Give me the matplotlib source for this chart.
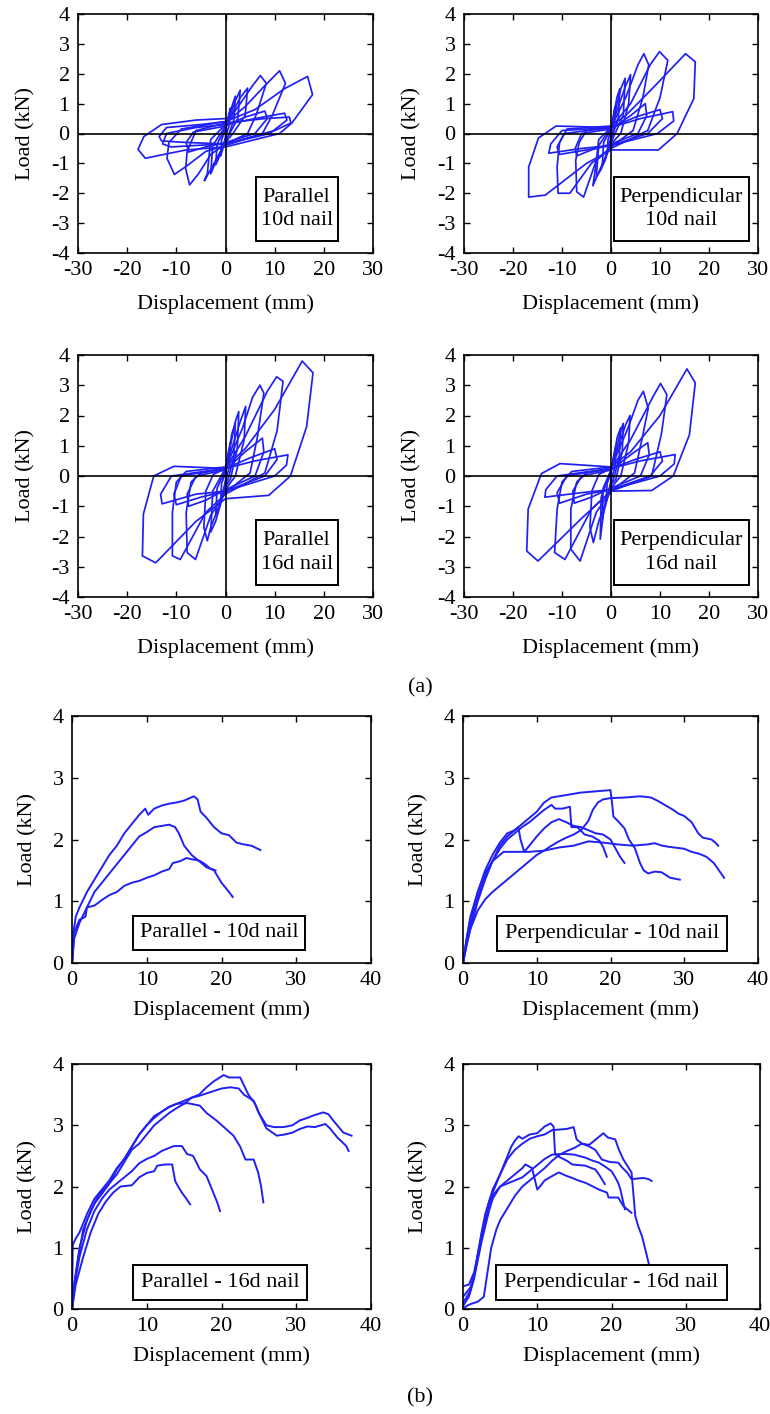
import matplotlib
matplotlib.use('Agg')
import matplotlib.pyplot as plt
from matplotlib.patches import Rectangle

plt.rcParams['font.family'] = ['Liberation Serif', 'DejaVu Serif']
plt.rcParams['axes.unicode_minus'] = False

BLUE = '#2020F5'

# ---- (a) cyclic tests: one closed path per cycle, (disp mm, load kN) ----
par10_loops = [
    [(0, 0.1), (0.6, 0.6), (1.0, 0.85), (0.8, 0.3), (0, -0.1), (-0.6, -0.55), (-1.0, -0.75), (-0.8, -0.2), (0, 0.1)],
    [(0, 0.15), (1.3, 0.9), (2.0, 1.25), (1.7, 0.45), (0.5, -0.1), (0, -0.2), (-1.3, -0.8), (-2.0, -1.05), (-1.7, -0.35), (0, 0.2)],
    [(0, 0.2), (2.0, 1.1), (3.0, 1.45), (2.5, 0.5), (0, -0.25), (-2.0, -0.95), (-3.0, -1.35), (-2.6, -0.4), (0, 0.25)],
    [(0, 0.25), (3.0, 1.2), (4.5, 1.52), (4.0, 0.6), (1.5, 0.0), (0, -0.3), (-3.0, -1.2), (-4.3, -1.58), (-3.7, -1.35), (-3.0, -0.2), (0, 0.3)],
    [(0, 0.3), (3.0, 1.0), (5.5, 1.6), (7.1, 1.94), (8.3, 1.68), (6.3, 0.65), (4.5, 0.0), (0, -0.35), (-3.0, -0.7), (-5.5, -1.35), (-7.3, -1.72), (-8.1, -1.18), (-7.8, -0.6), (-6.0, 0.1), (0, 0.35)],
    [(0, 0.25), (4.0, 0.55), (8.0, 0.75), (8.5, 0.5), (6.0, 0.0), (0, -0.3), (-4.0, -0.45), (-7.5, -0.62), (-8.0, -0.3), (-6.5, 0.05), (0, 0.25)],
    [(0, 0.35), (4.0, 0.9), (8.0, 1.6), (11.0, 2.1), (12.2, 1.68), (9.5, 0.6), (7.5, 0.0), (0, -0.4), (-4.0, -0.6), (-8.0, -1.1), (-10.4, -1.37), (-11.9, -0.83), (-11.5, -0.3), (-9.0, 0.15), (0, 0.4)],
    [(0, 0.3), (6.0, 0.5), (12.0, 0.68), (12.5, 0.45), (9.0, 0.0), (0, -0.35), (-6.0, -0.4), (-11.0, -0.45), (-12.8, -0.35), (-12.0, 0.0), (-6.0, 0.2), (0, 0.3)],
    [(0, 0.4), (6.0, 0.8), (12.0, 1.5), (16.7, 1.91), (17.7, 1.3), (13.5, 0.35), (11.0, 0.0), (0, -0.45), (-8.0, -0.55), (-14.0, -0.75), (-16.3, -0.83), (-17.8, -0.53), (-16.6, -0.1), (-13.0, 0.3), (-6.0, 0.45), (0, 0.5)],
    [(0, 0.35), (8.0, 0.5), (13.0, 0.55), (13.3, 0.35), (10.0, 0.1), (0, -0.35), (-8.0, -0.3), (-13.0, -0.25), (-13.5, -0.1), (-12.0, 0.2), (-5.0, 0.3), (0, 0.4)],
]

per10_loops = [
    [(0, 0.1), (0.5, 0.6), (0.8, 0.9), (0.6, 0.2), (0, -0.1), (-0.5, -0.5), (-0.8, -0.7), (-0.6, -0.2), (0, 0.1)],
    [(0, 0.1), (1.2, 1.2), (1.8, 1.5), (1.5, 0.5), (0, -0.2), (-1.2, -0.9), (-1.8, -1.1), (-1.5, -0.3), (0, 0.15)],
    [(0, 0.15), (2.0, 1.5), (2.9, 1.85), (2.5, 0.6), (0, -0.3), (-2.0, -1.2), (-3.0, -1.45), (-2.5, -0.4), (0, 0.2)],
    [(0, 0.2), (3.0, 1.6), (4.0, 1.97), (3.6, 1.0), (2.0, 0.0), (0, -0.35), (-2.5, -1.3), (-3.7, -1.75), (-3.2, -1.2), (-2.5, -0.2), (0, 0.2)],
    [(0, 0.2), (3.0, 1.2), (5.5, 2.3), (6.7, 2.67), (7.7, 2.3), (6.5, 1.2), (4.5, 0.1), (0, -0.45), (-3.0, -0.9), (-5.6, -2.13), (-7.0, -1.95), (-7.2, -0.9), (-6.5, -0.3), (-5.0, 0.1), (0, 0.2)],
    [(0, 0.15), (4.0, 0.6), (7.0, 1.0), (7.3, 0.6), (5.5, 0.0), (0, -0.35), (-4.0, -0.55), (-7.0, -0.75), (-7.3, -0.5), (-6.0, 0.0), (0, 0.15)],
    [(0, 0.2), (4.0, 1.0), (8.0, 2.3), (9.9, 2.74), (11.6, 2.45), (10.0, 1.2), (7.5, 0.1), (0, -0.5), (-4.0, -1.0), (-8.4, -2.0), (-10.8, -2.0), (-11.0, -1.12), (-10.5, -0.3), (-9.0, 0.15), (0, 0.25)],
    [(0, 0.2), (5.0, 0.55), (10.0, 0.8), (10.5, 0.5), (7.5, 0.0), (0, -0.4), (-5.0, -0.55), (-10.5, -0.7), (-11.0, -0.45), (-9.5, 0.0), (0, 0.2)],
    [(0, 0.25), (3.0, 0.6), (9.0, 1.6), (15.2, 2.67), (17.2, 2.4), (16.9, 1.17), (13.5, 0.0), (9.7, -0.55), (0, -0.55), (-5.0, -1.0), (-13.4, -2.06), (-16.8, -2.13), (-16.8, -1.12), (-14.8, -0.15), (-11.2, 0.25), (0, 0.2)],
    [(0, 0.2), (6.0, 0.5), (12.6, 0.73), (12.8, 0.42), (9.5, 0.0), (0, -0.4), (-6.0, -0.5), (-12.7, -0.66), (-12.3, -0.35), (-10.0, 0.1), (0, 0.2)],
]

par16_loops = [
    [(0, 0.1), (0.6, 0.8), (1.0, 1.1), (0.8, 0.3), (0, -0.15), (-0.6, -0.6), (-1.0, -0.85), (-0.8, -0.25), (0, 0.1)],
    [(0, 0.15), (1.3, 1.4), (2.0, 1.75), (1.7, 0.6), (0.5, -0.1), (0, -0.25), (-1.3, -1.0), (-2.0, -1.3), (-1.7, -0.4), (0, 0.2)],
    [(0, 0.2), (2.0, 1.8), (2.7, 2.13), (2.4, 0.9), (1.0, -0.1), (0, -0.35), (-2.0, -1.5), (-3.0, -1.85), (-2.6, -0.5), (0, 0.25)],
    [(0, 0.25), (3.0, 1.8), (4.1, 2.3), (3.8, 1.2), (2.0, 0.0), (0, -0.45), (-3.0, -1.7), (-3.7, -2.14), (-4.4, -1.7), (-4.0, -0.5), (-2.5, 0.05), (0, 0.25)],
    [(0, 0.25), (3.5, 1.6), (5.5, 2.6), (7.0, 3.0), (7.8, 2.74), (6.5, 1.3), (5.0, 0.1), (0, -0.55), (-3.0, -1.3), (-6.1, -2.76), (-7.8, -2.53), (-8.0, -1.2), (-7.0, -0.2), (-5.0, 0.1), (0, 0.25)],
    [(0, 0.2), (4.0, 0.8), (7.5, 1.25), (7.8, 0.8), (6.0, 0.0), (0, -0.45), (-4.0, -0.8), (-7.5, -1.0), (-7.8, -0.6), (-6.0, 0.0), (0, 0.2)],
    [(0, 0.25), (4.0, 1.3), (8.5, 2.8), (10.4, 3.28), (11.7, 3.13), (10.5, 1.5), (8.0, 0.1), (0, -0.6), (-4.0, -1.2), (-9.2, -2.76), (-10.8, -2.64), (-10.8, -1.2), (-10.0, -0.2), (-8.0, 0.15), (0, 0.3)],
    [(0, 0.25), (5.0, 0.6), (10.0, 0.9), (10.5, 0.55), (8.0, 0.0), (0, -0.5), (-5.0, -0.7), (-10.0, -0.95), (-10.5, -0.6), (-9.0, 0.0), (0, 0.25)],
    [(0, 0.3), (4.0, 0.9), (10.0, 2.2), (15.6, 3.8), (17.8, 3.41), (16.5, 1.63), (13.2, 0.0), (8.8, -0.64), (0, -0.75), (-6.0, -1.5), (-14.2, -2.87), (-16.9, -2.64), (-16.7, -1.26), (-14.6, 0.0), (-10.5, 0.32), (0, 0.25)],
    [(0, 0.25), (6.0, 0.5), (12.7, 0.7), (12.4, 0.36), (10.0, 0.0), (0, -0.5), (-6.0, -0.6), (-12.9, -0.92), (-13.2, -0.6), (-11.0, 0.0), (0, 0.25)],
]

per16_loops = [
    [(0, 0.1), (0.6, 0.7), (1.0, 1.0), (0.8, 0.3), (0, -0.15), (-0.6, -0.6), (-1.0, -0.8), (-0.8, -0.25), (0, 0.1)],
    [(0, 0.15), (1.3, 1.3), (2.0, 1.6), (1.7, 0.6), (0.5, -0.1), (0, -0.25), (-1.3, -1.0), (-1.8, -1.45), (-1.6, -0.4), (0, 0.2)],
    [(0, 0.2), (2.0, 1.5), (2.5, 1.74), (2.3, 0.8), (1.0, -0.1), (0, -0.3), (-1.5, -1.2), (-2.2, -2.09), (-2.0, -0.7), (0, 0.2)],
    [(0, 0.25), (3.0, 1.7), (3.9, 2.0), (3.6, 1.1), (2.0, 0.0), (0, -0.4), (-2.5, -1.5), (-3.6, -2.2), (-4.3, -1.7), (-3.9, -0.5), (-2.5, 0.05), (0, 0.25)],
    [(0, 0.25), (3.5, 1.6), (5.5, 2.5), (6.6, 2.8), (7.6, 2.24), (6.3, 1.2), (4.8, 0.1), (0, -0.5), (-3.0, -1.2), (-6.3, -2.81), (-8.2, -2.42), (-8.2, -1.1), (-7.0, -0.2), (-5.0, 0.1), (0, 0.25)],
    [(0, 0.2), (4.0, 0.7), (7.5, 1.1), (7.8, 0.7), (6.0, 0.0), (0, -0.4), (-4.0, -0.7), (-7.5, -0.9), (-7.8, -0.5), (-6.0, 0.0), (0, 0.2)],
    [(0, 0.25), (4.0, 1.2), (8.5, 2.6), (10.1, 3.06), (11.4, 2.69), (10.3, 1.4), (8.3, 0.0), (0, -0.5), (-4.0, -1.1), (-9.4, -2.76), (-11.5, -2.53), (-11.0, -1.1), (-10.0, -0.2), (-8.0, 0.15), (0, 0.3)],
    [(0, 0.25), (5.0, 0.55), (10.0, 0.8), (10.5, 0.5), (8.0, 0.0), (0, -0.45), (-5.0, -0.6), (-10.5, -0.9), (-11.0, -0.55), (-9.0, 0.0), (0, 0.25)],
    [(0, 0.3), (4.0, 0.8), (10.0, 2.0), (15.5, 3.54), (17.2, 3.08), (16.0, 1.36), (12.7, 0.0), (8.3, -0.48), (0, -0.5), (-6.0, -1.4), (-14.9, -2.81), (-17.2, -2.48), (-16.9, -1.09), (-14.2, 0.08), (-10.4, 0.41), (0, 0.3)],
    [(0, 0.25), (6.0, 0.5), (13.1, 0.71), (12.9, 0.4), (10.0, 0.0), (0, -0.45), (-6.0, -0.55), (-13.5, -0.7), (-13.3, -0.45), (-11.0, 0.0), (0, 0.25)],
]

# ---- (b) monotonic tests ----
par10_mono = [
    [(0, 0), (0.2, 0.5), (0.5, 0.75), (1, 0.9), (2, 1.15), (3, 1.35), (4, 1.55), (5, 1.75), (6, 1.9), (7, 2.1), (8, 2.25), (9, 2.4), (9.8, 2.5), (10.2, 2.4), (11, 2.5), (12, 2.55), (13, 2.58), (14, 2.6), (15, 2.63), (16.3, 2.7), (16.8, 2.65), (17.2, 2.45), (18, 2.35), (19, 2.2), (20, 2.1), (21, 2.07), (22, 1.95), (23, 1.92), (24, 1.9), (24.5, 1.87), (25.2, 1.83)],
    [(0, 0), (0.3, 0.4), (1, 0.65), (2, 0.9), (3, 1.15), (4, 1.3), (5, 1.45), (6, 1.6), (7, 1.75), (8, 1.9), (9, 2.05), (10, 2.12), (11, 2.2), (12, 2.22), (13, 2.24), (13.8, 2.2), (14.3, 2.1), (15, 1.9), (16, 1.75), (17, 1.65), (18, 1.55), (19, 1.5), (19.5, 1.4), (20, 1.3), (21, 1.15), (21.5, 1.07)],
    [(0, 0), (0.3, 0.5), (1, 0.7), (1.8, 0.75), (2, 0.9), (3, 0.93), (4, 1.02), (5, 1.1), (6, 1.15), (7, 1.25), (8, 1.3), (9, 1.33), (10, 1.38), (11, 1.42), (12, 1.48), (13, 1.52), (13.5, 1.62), (14.5, 1.65), (15.3, 1.7), (16, 1.68), (17, 1.66), (17.8, 1.6), (18.5, 1.53), (19.2, 1.5)],
]

per10_mono = [
    [(0, 0), (0.5, 0.3), (1, 0.55), (2, 1.0), (3, 1.35), (4, 1.65), (5, 1.9), (6, 2.05), (7, 2.15), (8, 2.25), (9, 2.35), (10, 2.45), (11, 2.6), (12, 2.68), (14, 2.72), (16, 2.76), (18, 2.78), (20, 2.8), (20.2, 2.6), (20.4, 2.37), (21, 2.3), (21.9, 2.18), (22.5, 2.0), (23.3, 1.86), (24, 1.62), (24.5, 1.5), (25.1, 1.45), (26, 1.48), (26.9, 1.47), (28.1, 1.38), (29.4, 1.35)],
    [(0, 0), (0.5, 0.35), (1, 0.6), (2, 1.05), (3, 1.4), (4, 1.65), (5, 1.85), (6, 2.0), (7, 2.1), (8, 2.2), (9, 2.28), (10, 2.38), (11, 2.48), (12, 2.56), (12.5, 2.5), (13.5, 2.5), (14.5, 2.53), (14.7, 2.2), (15.5, 2.2), (16.5, 2.08), (17.5, 2.05), (18.5, 1.98), (19, 1.88), (19.5, 1.72)],
    [(0, 0), (0.5, 0.4), (1, 0.7), (2, 1.15), (3, 1.5), (4, 1.75), (5, 1.95), (6, 2.1), (7, 2.15), (7.5, 2.2), (7.8, 2.0), (8.3, 1.8), (9, 1.9), (10, 2.05), (11, 2.18), (12, 2.28), (13, 2.33), (14, 2.28), (15, 2.22), (16, 2.2), (17, 2.15), (18, 2.1), (19, 2.08), (20, 2.0), (20.7, 1.85), (21.3, 1.72), (21.9, 1.62)],
    [(0, 0), (0.5, 0.4), (1, 0.75), (2, 1.15), (3, 1.45), (4, 1.65), (5, 1.75), (5.5, 1.8), (7, 1.8), (9, 1.8), (11, 1.82), (13, 1.87), (15, 1.9), (17, 1.97), (19, 1.95), (21, 1.92), (23, 1.9), (25, 1.92), (26, 1.94), (27, 1.9), (28, 1.88), (30, 1.85), (31, 1.8), (32, 1.77), (33, 1.72), (34, 1.62), (35, 1.45), (35.4, 1.38)],
    [(0, 0), (0.5, 0.3), (1, 0.55), (2, 0.85), (3, 1.03), (4, 1.15), (5, 1.25), (6, 1.35), (7, 1.45), (8, 1.55), (9, 1.65), (10, 1.75), (11, 1.82), (12, 1.9), (13, 1.97), (14, 2.03), (15, 2.08), (16, 2.15), (17, 2.3), (17.6, 2.48), (18.3, 2.6), (19, 2.65), (20, 2.67), (22, 2.68), (24, 2.7), (25.5, 2.68), (26.5, 2.62), (27.5, 2.55), (28.5, 2.48), (29.2, 2.42), (30, 2.38), (31, 2.28), (31.9, 2.1), (32.5, 2.03), (33.7, 2.0), (34.2, 1.95), (34.6, 1.9)],
]

par16_mono = [
    [(0, 0), (0.1, 1.05), (0.5, 1.15), (1, 1.25), (2, 1.55), (3, 1.8), (4, 1.95), (5, 2.1), (6, 2.3), (7, 2.45), (8, 2.65), (9, 2.85), (10, 3.0), (11, 3.15), (12, 3.22), (13, 3.3), (14, 3.35), (15, 3.4), (16, 3.45), (17, 3.5), (18, 3.62), (19, 3.72), (20.3, 3.82), (21, 3.78), (22.5, 3.78), (23.6, 3.5), (24.5, 3.35), (25, 3.2), (26, 3.0), (27, 2.97), (28.3, 2.97), (29.5, 3.0), (30.5, 3.08), (31.5, 3.12), (32.3, 3.16), (33.6, 3.21), (34.3, 3.18), (35, 3.07), (36.3, 2.88), (37.4, 2.83)],
    [(0, 0), (0.3, 0.4), (0.8, 0.8), (1.5, 1.3), (2.5, 1.6), (3.5, 1.85), (5, 2.05), (6, 2.2), (7, 2.4), (8, 2.6), (9, 2.7), (10, 2.85), (11, 3.0), (12, 3.1), (13, 3.2), (14, 3.28), (15, 3.35), (16, 3.45), (17, 3.48), (18, 3.52), (19, 3.56), (20, 3.6), (21.2, 3.62), (22.3, 3.6), (23, 3.5), (24.3, 3.4), (25, 3.2), (26, 2.95), (27.4, 2.83), (28.5, 2.85), (29.5, 2.88), (30.5, 2.94), (31.5, 2.98), (32.5, 2.97), (33.9, 3.02), (34.5, 2.95), (35.5, 2.8), (36.7, 2.66), (37, 2.58)],
    [(0, 0), (0.3, 0.4), (1, 1.0), (2, 1.45), (3, 1.72), (4, 1.88), (5, 2.05), (6, 2.28), (7, 2.45), (8, 2.65), (9, 2.85), (10, 3.0), (11, 3.12), (12, 3.22), (13, 3.3), (14, 3.35), (15.5, 3.36), (17.1, 3.32), (18, 3.2), (19.4, 3.07), (20.5, 2.95), (21.6, 2.83), (22.5, 2.65), (23.2, 2.44), (24.3, 2.44), (24.9, 2.23), (25.3, 2.0), (25.6, 1.74)],
    [(0, 0), (0.5, 0.5), (1, 0.85), (2, 1.3), (3, 1.6), (4, 1.8), (5, 1.95), (6, 2.05), (7, 2.15), (8, 2.25), (9, 2.38), (10, 2.45), (11, 2.5), (12, 2.58), (13, 2.63), (13.6, 2.66), (14.7, 2.66), (15.4, 2.53), (16.2, 2.5), (17.1, 2.28), (18, 2.17), (18.5, 2.02), (18.9, 1.9), (19.4, 1.75), (19.8, 1.6)],
    [(0, 0), (0.5, 0.4), (1.5, 0.85), (2.5, 1.25), (3.5, 1.55), (4.5, 1.75), (5.5, 1.9), (6.5, 2.0), (8, 2.02), (9, 2.15), (10, 2.22), (11, 2.25), (11.4, 2.34), (12.5, 2.36), (13.4, 2.36), (13.8, 2.09), (14.2, 2.0), (14.7, 1.9), (15.3, 1.8), (15.8, 1.71)],
]

per16_mono = [
    [(0, 0.37), (0.8, 0.4), (1.5, 0.6), (2, 0.9), (2.5, 1.2), (3, 1.5), (3.5, 1.75), (4, 1.9), (5, 2.2), (6, 2.5), (6.5, 2.65), (7, 2.75), (7.5, 2.82), (8, 2.78), (9, 2.85), (10, 2.87), (11, 2.98), (11.8, 3.03), (12.2, 2.98), (12.4, 2.53), (13, 2.48), (14, 2.42), (14.7, 2.36), (15.5, 2.35), (16.5, 2.34), (17.3, 2.3), (17.8, 2.28), (18.3, 2.2), (19.1, 2.04)],
    [(0, 0.2), (1, 0.35), (1.5, 0.55), (2, 0.9), (2.5, 1.25), (3, 1.55), (4, 1.95), (5, 2.2), (6, 2.45), (7, 2.6), (8, 2.7), (9, 2.78), (10, 2.82), (11, 2.85), (12, 2.92), (13, 2.93), (14, 2.94), (14.9, 2.97), (15.3, 2.77), (16, 2.7), (16.9, 2.66), (17.8, 2.6), (18.7, 2.44), (19.8, 2.4), (20.9, 2.39), (21.5, 2.3), (22.1, 2.23), (22.7, 2.12), (23.5, 2.13), (24.3, 2.14), (25, 2.12), (25.4, 2.09)],
    [(0, 0), (0.5, 0.05), (1, 0.08), (2, 0.12), (2.8, 0.2), (3.3, 0.6), (3.8, 1.0), (4.5, 1.3), (5, 1.45), (6, 1.65), (7, 1.85), (8, 2.0), (9, 2.1), (10, 2.2), (11, 2.3), (12, 2.42), (13, 2.52), (14, 2.58), (15, 2.63), (16, 2.7), (17, 2.68), (18, 2.78), (18.9, 2.87), (19.5, 2.8), (20.5, 2.77), (21, 2.6), (21.6, 2.44), (22.7, 2.23), (23.2, 1.52), (23.6, 1.35), (24.1, 1.19), (24.6, 0.95), (25, 0.75)],
    [(0, 0.05), (0.8, 0.2), (1.5, 0.5), (2, 0.8), (2.5, 1.1), (3, 1.35), (3.5, 1.6), (4, 1.8), (5, 2.0), (6, 2.1), (7, 2.2), (8, 2.3), (8.4, 2.36), (9.3, 2.3), (10, 1.95), (10.5, 2.02), (11, 2.1), (12, 2.17), (12.9, 2.23), (13.8, 2.18), (14.7, 2.14), (15.5, 2.1), (16.5, 2.06), (17.5, 2.0), (18.3, 1.95), (19.4, 1.9), (19.6, 1.82), (20.9, 1.82), (21.6, 1.68), (22.2, 1.62), (22.7, 1.57)],
    [(0, 0.1), (1, 0.3), (1.5, 0.55), (2, 0.85), (2.5, 1.15), (3, 1.45), (3.5, 1.7), (4, 1.85), (5, 2.0), (6, 2.05), (7, 2.1), (8, 2.15), (9, 2.25), (10, 2.35), (11, 2.45), (12, 2.52), (13, 2.53), (14, 2.53), (15, 2.52), (16.5, 2.47), (17.5, 2.42), (18.3, 2.39), (19.2, 2.32), (20, 2.25), (20.5, 2.15), (20.9, 2.06), (21.2, 1.95), (21.4, 1.84), (21.8, 1.63)],
]

cyc_labels = ['Parallel\n10d nail', 'Perpendicular\n10d nail', 'Parallel\n16d nail', 'Perpendicular\n16d nail']
mono_labels = ['Parallel - 10d nail', 'Perpendicular - 10d nail', 'Parallel - 16d nail', 'Perpendicular - 16d nail']

W, H = 770, 1414
fig = plt.figure(figsize=(W / 100, H / 100), dpi=100)
FS = 16


def add_ax(left, top, right, bottom):
    return fig.add_axes([left / W, 1 - bottom / H, (right - left) / W, (bottom - top) / H])


def style(ax, xpad, ypad):
    for s in ax.spines.values():
        s.set_linewidth(1.2)
    ax.tick_params(direction='in', top=True, right=True, length=4, width=1.0,
                   labelsize=FS, pad=6)
    ax.set_xlabel('Displacement (mm)', fontsize=FS, labelpad=xpad)
    ax.set_ylabel('Load (kN)', fontsize=FS, labelpad=ypad)


def label_box(ax, x0, y0, x1, y1, text):
    ax.add_patch(Rectangle((x0, y0), x1 - x0, y1 - y0, transform=ax.transAxes,
                           facecolor='white', edgecolor='black', lw=1.4, zorder=6))
    ax.text((x0 + x1) / 2, (y0 + y1) / 2, text, transform=ax.transAxes, ha='center',
            va='center', fontsize=FS, linespacing=1.35, zorder=7)


# (a) cyclic
cyc_pos = [(78, 14, 373, 253), (464, 14, 758, 253), (78, 355, 373, 597), (464, 355, 758, 597)]
cyc_boxes = [(0.603, 0.05, 0.88, 0.318), (0.51, 0.05, 0.97, 0.318),
             (0.603, 0.05, 0.88, 0.318), (0.51, 0.05, 0.97, 0.318)]
for pos, loops, lab, bx in zip(cyc_pos, [par10_loops, per10_loops, par16_loops, per16_loops],
                               cyc_labels, cyc_boxes):
    ax = add_ax(*pos)
    for loop in loops:
        xs = [p[0] for p in loop]
        ys = [p[1] for p in loop]
        ax.plot(xs, ys, color=BLUE, lw=1.25, zorder=2)
    ax.axhline(0, color='black', lw=1.2, zorder=3)
    ax.axvline(0, color='black', lw=1.2, zorder=3)
    ax.set_xlim(-30, 30)
    ax.set_ylim(-4, 4)
    ax.set_xticks(range(-30, 31, 10))
    ax.set_yticks(range(-4, 5))
    style(ax, 10, 11)
    label_box(ax, *bx, lab)

fig.text(420 / W, 1 - 688 / H, '(a)', ha='center', va='center', fontsize=FS)

# (b) monotonic
mono_pos = [(72, 716, 371, 963), (463, 716, 758, 963), (72, 1064, 371, 1309), (463, 1064, 760, 1309)]
mono_boxes = [(0.204, 0.053, 0.78, 0.19), (0.115, 0.05, 0.895, 0.19),
              (0.204, 0.037, 0.785, 0.18), (0.11, 0.037, 0.89, 0.18)]
for pos, curves, lab, bx in zip(mono_pos, [par10_mono, per10_mono, par16_mono, per16_mono],
                                mono_labels, mono_boxes):
    ax = add_ax(*pos)
    for c in curves:
        xs = [p[0] for p in c]
        ys = [p[1] for p in c]
        ax.plot(xs, ys, color=BLUE, lw=1.4, zorder=2)
    ax.set_xlim(0, 40)
    ax.set_ylim(0, 4)
    ax.set_xticks(range(0, 41, 10))
    ax.set_yticks(range(0, 5))
    style(ax, 7, 11)
    label_box(ax, *bx, lab)

fig.text(420 / W, 1 - 1398 / H, '(b)', ha='center', va='center', fontsize=FS)

fig.savefig('out.png', dpi=100, facecolor='white')
